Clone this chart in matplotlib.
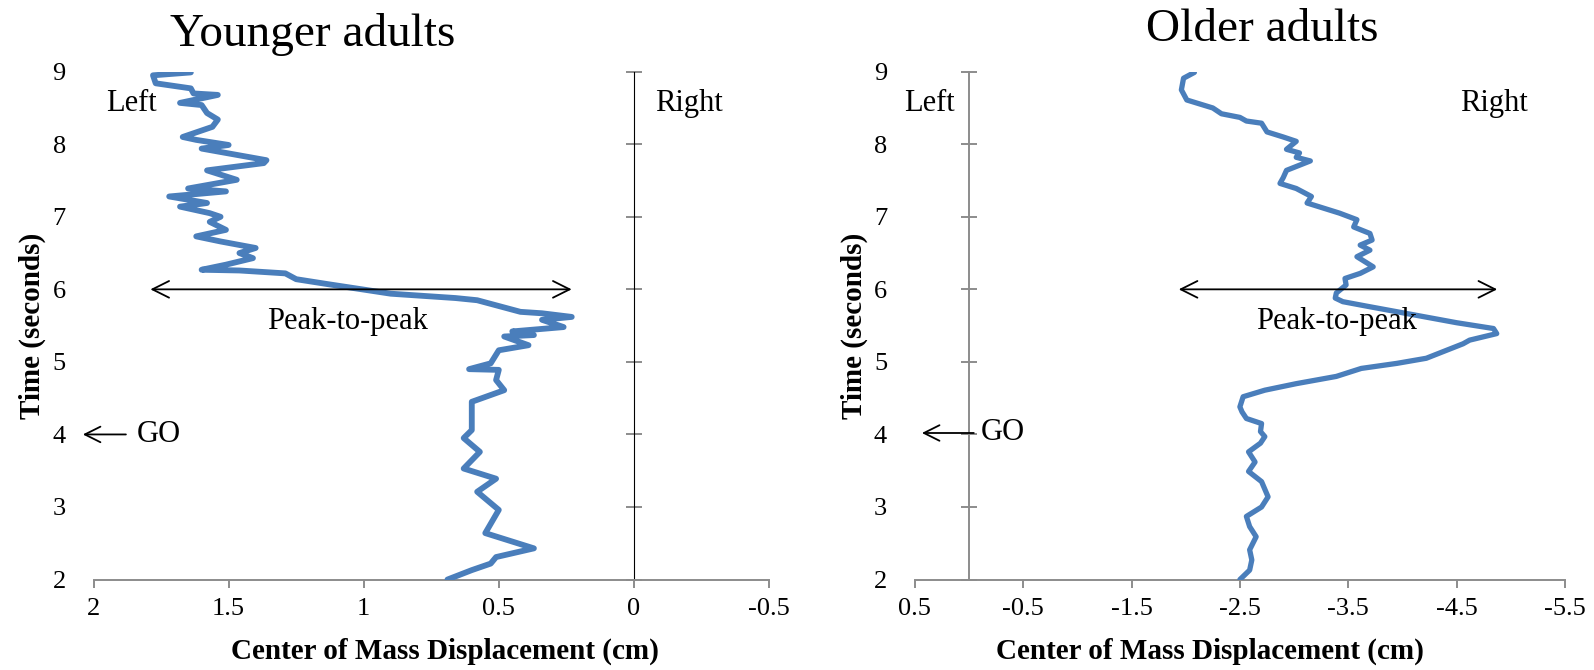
import matplotlib
matplotlib.use('Agg')
import matplotlib.pyplot as plt

plt.rcParams['font.family'] = ['Liberation Serif', 'DejaVu Serif']

# younger adults: time (s) vs centre of mass displacement (cm)
young_t = [8.99, 8.95, 8.84, 8.77, 8.70, 8.68, 8.57, 8.54, 8.43, 8.34, 8.24, 8.10,
           8.06, 7.99, 7.94, 7.78, 7.74, 7.64, 7.51, 7.39, 7.35, 7.28, 7.19, 7.14,
           7.05, 7.00, 6.93, 6.82, 6.73, 6.66, 6.57, 6.50, 6.43, 6.34, 6.27, 6.26,
           6.22, 6.14, 6.07, 5.94, 5.88, 5.85, 5.78, 5.69, 5.67, 5.62, 5.58, 5.48,
           5.42, 5.37, 5.35, 5.23, 5.16, 4.98, 4.90, 4.89, 4.75, 4.61, 4.45, 4.24,
           4.06, 3.95, 3.76, 3.53, 3.39, 3.21, 2.96, 2.64, 2.43, 2.31, 2.22, 2.13, 2.00]
young_x = [1.64, 1.78, 1.77, 1.64, 1.63, 1.54, 1.68, 1.60, 1.58, 1.54, 1.56, 1.67,
           1.62, 1.50, 1.60, 1.36, 1.37, 1.58, 1.47, 1.65, 1.51, 1.72, 1.58, 1.68,
           1.57, 1.53, 1.57, 1.51, 1.62, 1.53, 1.40, 1.46, 1.41, 1.51, 1.60, 1.46,
           1.29, 1.25, 1.13, 0.90, 0.66, 0.58, 0.51, 0.42, 0.34, 0.23, 0.34, 0.26,
           0.45, 0.37, 0.48, 0.39, 0.50, 0.53, 0.61, 0.50, 0.51, 0.48, 0.60, 0.60,
           0.60, 0.63, 0.57, 0.63, 0.51, 0.58, 0.50, 0.55, 0.37, 0.51, 0.53, 0.60, 0.69]

# older adults
old_t = [8.99, 8.91, 8.75, 8.61, 8.50, 8.42, 8.37, 8.32, 8.29, 8.17, 8.10, 8.04,
         7.93, 7.88, 7.82, 7.77, 7.64, 7.54, 7.46, 7.39, 7.28, 7.19, 7.12, 7.05,
         6.96, 6.86, 6.77, 6.68, 6.61, 6.54, 6.45, 6.31, 6.22, 6.15, 6.06, 5.95,
         5.88, 5.83, 5.76, 5.65, 5.54, 5.46, 5.39, 5.30, 5.25, 5.05, 4.98, 4.91,
         4.80, 4.70, 4.61, 4.52, 4.38, 4.31, 4.22, 4.15, 4.04, 3.97, 3.88, 3.76,
         3.62, 3.49, 3.35, 3.14, 3.00, 2.87, 2.73, 2.59, 2.41, 2.27, 2.13, 2.00]
old_x = [-2.08, -1.98, -1.96, -2.01, -2.25, -2.33, -2.50, -2.56, -2.70, -2.75, -2.90, -3.02,
         -2.93, -3.05, -3.02, -3.15, -2.93, -2.90, -2.87, -3.02, -3.16, -3.12, -3.27, -3.42,
         -3.58, -3.55, -3.70, -3.72, -3.61, -3.70, -3.58, -3.73, -3.61, -3.47, -3.48, -3.39,
         -3.38, -3.45, -3.70, -4.10, -4.50, -4.84, -4.87, -4.62, -4.56, -4.22, -3.95, -3.62,
         -3.39, -3.02, -2.73, -2.53, -2.50, -2.52, -2.56, -2.70, -2.69, -2.73, -2.69, -2.58,
         -2.64, -2.58, -2.70, -2.76, -2.70, -2.56, -2.59, -2.65, -2.59, -2.61, -2.59, -2.50]

young_xticks = [2, 1.5, 1, 0.5, 0, -0.5]
young_xlabels = ['2', '1.5', '1', '0.5', '0', '-0.5']
old_xticks = [0.5, -0.5, -1.5, -2.5, -3.5, -4.5, -5.5]
old_xlabels = ['0.5', '-0.5', '-1.5', '-2.5', '-3.5', '-4.5', '-5.5']
yticks = [2, 3, 4, 5, 6, 7, 8, 9]

blue = '#4a7ebb'
gray = '#8c8c8c'

fig = plt.figure(figsize=(15.94, 6.70), dpi=100)
ax1 = fig.add_axes([0.0587, 0.135, 0.4237, 0.758])
ax2 = fig.add_axes([0.5739, 0.135, 0.4079, 0.758])


def style(ax, xlim, xticks, xlabels, zero_frac):
    ax.set_xlim(*xlim)
    ax.set_ylim(2, 9)
    for s in ['left', 'right', 'top']:
        ax.spines[s].set_visible(False)
    ax.spines['bottom'].set_color(gray)
    ax.spines['bottom'].set_linewidth(1.4)
    ax.set_xticks(xticks)
    ax.set_xticklabels(xlabels)
    ax.set_yticks(yticks)
    ax.tick_params(axis='x', direction='out', length=6, width=1.4, color=gray,
                   labelsize=19, pad=7)
    ax.tick_params(axis='y', length=0, labelsize=19, pad=20)
    sec = ax.secondary_yaxis(zero_frac)
    sec.set_yticks(yticks)
    sec.spines['left'].set_color(gray)
    sec.spines['left'].set_linewidth(1.4)
    sec.tick_params(direction='inout', length=11, width=1.4, color=gray,
                    labelleft=False, labelright=False)
    ax.set_xlabel('Center of Mass Displacement (cm)', fontsize=21, fontweight='bold')
    ax.set_ylabel('Time (seconds)', fontsize=21, fontweight='bold')


style(ax1, (2, -0.5), young_xticks, young_xlabels, 0.8)
style(ax2, (0.5, -5.5), old_xticks, old_xlabels, 0.5 / 6)

ax1.xaxis.set_label_coords(0.52, -0.115)
ax2.xaxis.set_label_coords(0.454, -0.115)
ax1.yaxis.set_label_coords(-0.070, 0.5)
ax2.yaxis.set_label_coords(-0.072, 0.5)

ax1.plot(young_x, young_t, color=blue, lw=4.2, solid_joinstyle='round',
         solid_capstyle='round', zorder=3)
ax2.plot(old_x, old_t, color=blue, lw=3.8, solid_joinstyle='round',
         solid_capstyle='round', zorder=3)

ax1.text(0.325, 1.051, 'Younger adults', transform=ax1.transAxes, ha='center',
         va='baseline', fontsize=34)
ax2.text(0.534, 1.06, 'Older adults', transform=ax2.transAxes, ha='center',
         va='baseline', fontsize=34)

arrow = dict(arrowstyle='<->', color='black', lw=1.3, mutation_scale=30)
ax1.annotate('', xy=(0.22, 6.0), xytext=(1.80, 6.0), arrowprops=arrow, zorder=4)
ax2.annotate('', xy=(-4.90, 6.0), xytext=(-1.91, 6.0), arrowprops=arrow, zorder=4)

ax1.text(1.06, 5.56, 'Peak-to-peak', ha='center', va='center', fontsize=22)
ax2.text(-3.39, 5.56, 'Peak-to-peak', ha='center', va='center', fontsize=22)

ax1.text(1.86, 8.56, 'Left', ha='center', va='center', fontsize=22)
ax1.text(-0.205, 8.56, 'Right', ha='center', va='center', fontsize=22)
ax2.text(0.363, 8.56, 'Left', ha='center', va='center', fontsize=22)
ax2.text(-4.84, 8.56, 'Right', ha='center', va='center', fontsize=22)

go = dict(arrowstyle='->', color='black', lw=1.3, mutation_scale=28)
ax1.annotate('', xy=(2.05, 4.0), xytext=(1.87, 4.0), arrowprops=go,
             annotation_clip=False)
ax1.text(1.84, 4.0, 'GO', ha='left', va='center', fontsize=22)
ax2.annotate('', xy=(0.46, 4.02), xytext=(-0.07, 4.02), arrowprops=go,
             annotation_clip=False)
ax2.text(-0.11, 4.02, 'GO', ha='left', va='center', fontsize=22)

fig.savefig('out.png', dpi=100)
